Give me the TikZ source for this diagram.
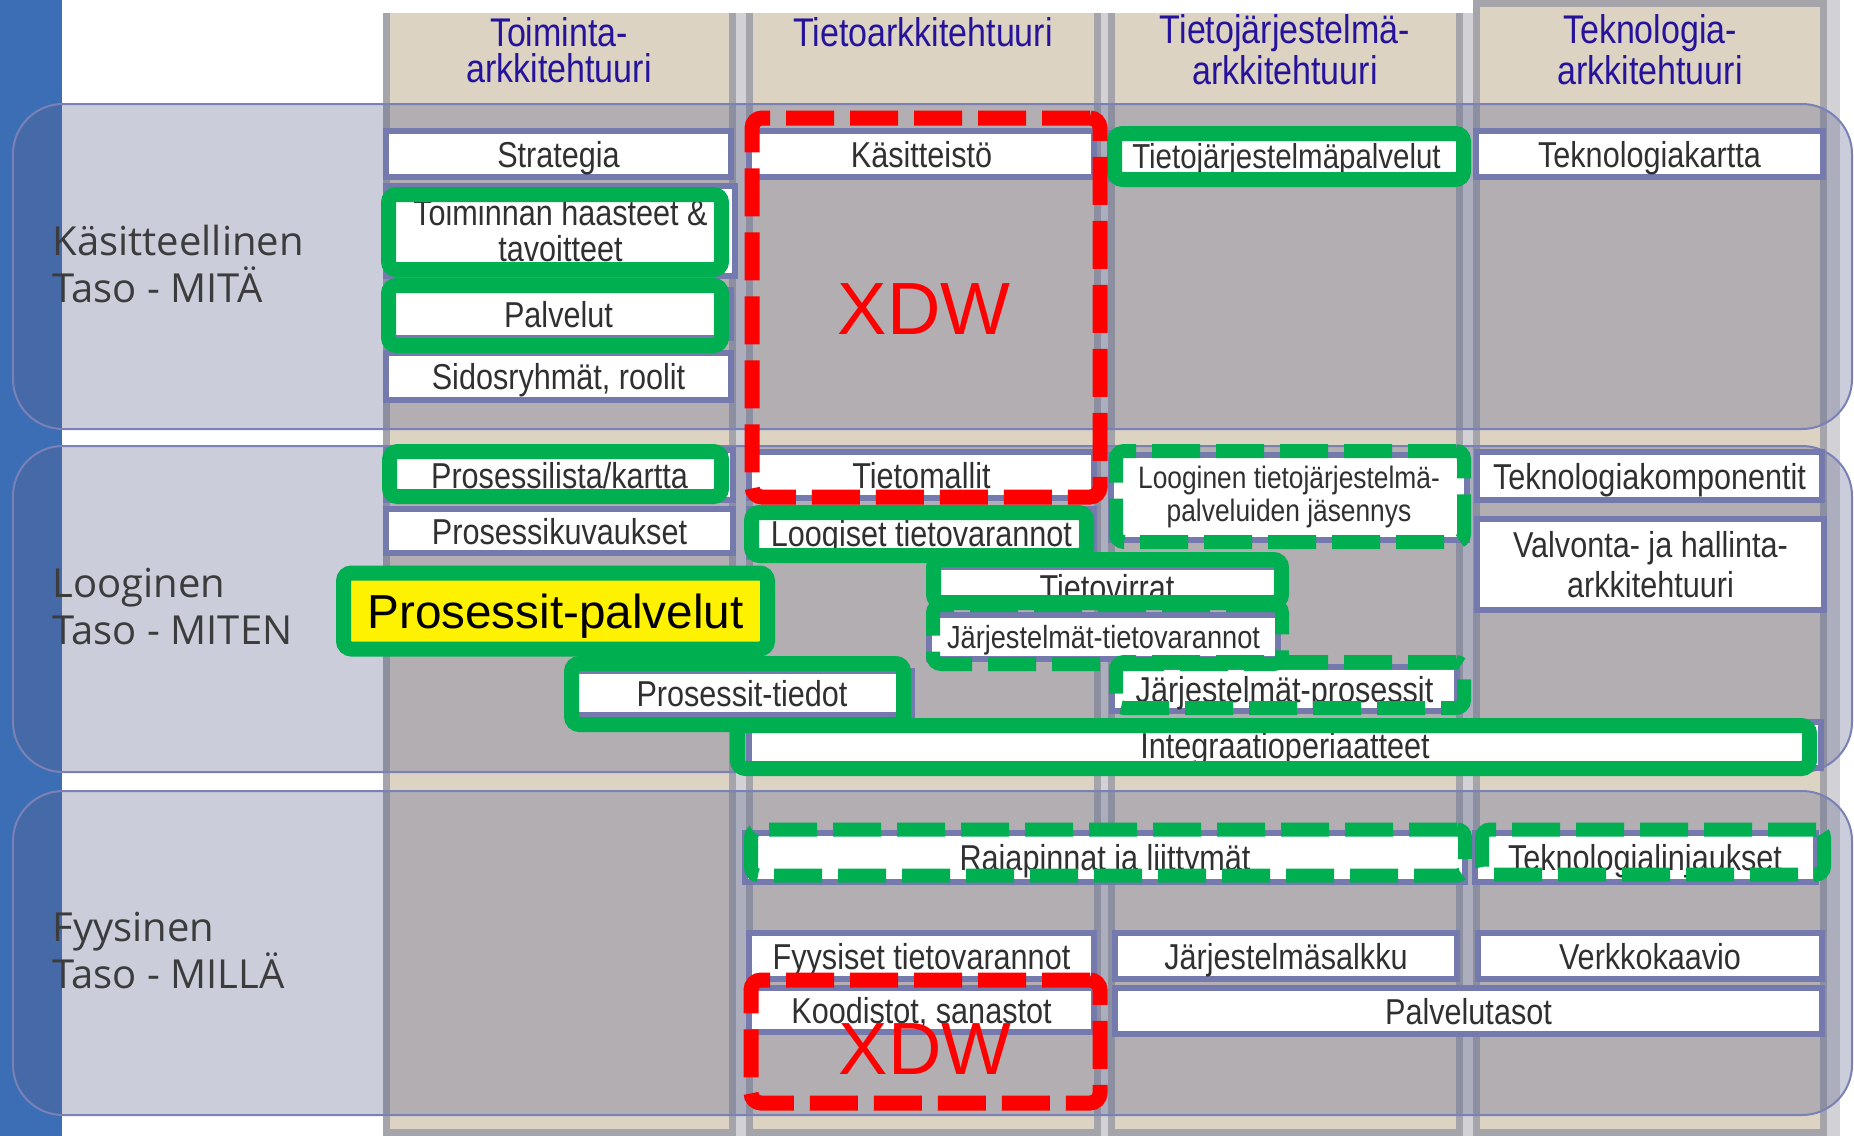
\documentclass[tikz,border=0pt]{standalone}
\usepackage{fontspec}
\setmainfont{Liberation Sans}
\newfontfamily\narrowfont[FakeStretch=0.85]{Liberation Sans}
\newfontfamily\tasofont{Open Sans}
\usepackage{xcolor}
\definecolor{BarBlue}{HTML}{3C6EB5}
\definecolor{ColTan}{HTML}{DCD3C2}
\definecolor{ColGray}{HTML}{A4A4AA}
\definecolor{StipGray}{HTML}{D2D2D6}
\definecolor{BandInk}{HTML}{5C638E}
\definecolor{BandLine}{HTML}{7A81B6}
\definecolor{BoxLine}{HTML}{7479AE}
\definecolor{BoxText}{HTML}{303030}
\definecolor{HeadBlue}{HTML}{26139C}
\definecolor{TasoGray}{HTML}{3C3C3C}
\definecolor{OffGreen}{HTML}{00B050}
\definecolor{XRed}{HTML}{FF0000}
\usepackage{tikz}
\newcommand\boxfont{\narrowfont\fontsize{10.8pt}{10.8pt}\selectfont}
\newcommand\headfont{\narrowfont\fontsize{12pt}{10.8pt}\selectfont}

\begin{document}
\begin{tikzpicture}[x=0.3pt,y=-0.3pt, sz/.style 2 args={minimum width=#1*0.3pt,minimum height=#2*0.3pt}, box/.style={draw=BoxLine,line width=1.8pt,fill=white,inner sep=0pt,text=BoxText,font=\boxfont,text height=7.9pt,text depth=0pt}, box2/.style={draw=BoxLine,line width=1.8pt,fill=white,inner sep=0pt,text=BoxText,font=\boxfont,align=center}, gframe/.style={draw=OffGreen,line width=4.5pt,rounded corners=2.4pt,inner sep=0pt}, gdash/.style={gframe,line width=4.2pt,dash pattern=on 14.4pt off 4.8pt}, hilite/.style={gframe,fill=yellow,text=black,font=\fontsize{14.3pt}{14.3pt}\selectfont,text height=10.4pt,text depth=0pt}, xdwframe/.style={draw=XRed,line width=4.5pt,dash pattern=on 14.4pt off 4.8pt,rounded corners=3pt,inner sep=0pt}, xdw/.style={text=XRed,font=\fontsize{22.2pt}{22.2pt}\selectfont,inner sep=0pt,text height=16pt,text depth=0pt}, head/.style={text=HeadBlue,font=\headfont,align=center,inner sep=0pt}, taso/.style={text=TasoGray,font=\tasofont\fontsize{12pt}{14.1pt}\selectfont,align=left,anchor=west,inner sep=0pt}, band/.style={draw=BandLine,line width=0.6pt,fill=BandInk,fill opacity=0.32,rounded corners=15pt}]
\useasboundingbox (0,0) rectangle (1854,1136);
\fill[BarBlue] (0,0) rectangle (62,1136);
\foreach \l/\r in {383/736,746/1101,1108/1463} {
  \fill[ColTan] (\l,13) rectangle (\r,1136);
  \draw[ColGray,line width=2.1pt] (\l+3.5,13) -- (\l+3.5,1132.5) -- (\r-3.5,1132.5) -- (\r-3.5,13);
}
\fill[ColTan] (1473,0) rectangle (1827,1136);
\draw[ColGray,line width=2.1pt] (1476.5,3.5) rectangle (1823.5,1132.5);
\foreach \a/\b in {736/746,1101/1108,1463/1473} \fill[StipGray] (\a,13) rectangle (\b,1136);
\fill[StipGray] (1827,0) rectangle (1840,1136);
\foreach \t/\b in {104/429,446/772,791/1115} \draw[band] (13,\t) rectangle (1852,\b);

\node[head] (hToim) at (559,50) {Toiminta-\\arkkitehtuuri};
\node[head] (hTieto) at (923,32) {Tietoarkkitehtuuri};
\node[head] (hTJ) at (1285,50) {Tietojärjestelmä-\\arkkitehtuuri};
\node[head] (hTek) at (1650,50) {Teknologia-\\arkkitehtuuri};
\node[taso] (kasitteellinen) at (52,263.5) {Käsitteellinen\\Taso - MITÄ};
\node[taso] (looginen) at (52,606.5) {Looginen\\Taso - MITEN};
\node[taso] (fyysinen) at (52,951) {Fyysinen\\Taso - MILLÄ};

\node[box,sz={345}{46}] (strategia) at (558.5,154) {Strategia};
\node[box2,sz={349}{90}] (haasteet) at (560.5,231) {Toiminnan haasteet \&\\tavoitteet};
\node[box,sz={345}{48}] (palvelut) at (558.5,314) {Palvelut};
\node[box,sz={345}{47}] (sidos) at (558.5,376) {Sidosryhmät, roolit};
\node[box,sz={345}{46}] (kasitteisto) at (921.5,154) {Käsitteistö};
\node[box,sz={351}{46},font=\narrowfont\fontsize{10.4pt}{10.4pt}\selectfont,text height=7.5pt] (tjpalv) at (1286.5,156) {Tietojärjestelmäpalvelut};
\node[box,sz={347}{46}] (tekkartta) at (1649.5,154) {Teknologiakartta};

\node[box,sz={347}{50}] (proslista) at (559.5,475) {Prosessilista/kartta};
\node[box,sz={347}{44}] (proskuv) at (559.5,531) {Prosessikuvaukset};
\node[box,sz={345}{46}] (tietomallit) at (921.5,475) {Tietomallit};
\node[box,sz={345}{48}] (loogvar) at (921.5,533) {Loogiset tietovarannot};
\node[box2,sz={356}{85},font=\narrowfont\fontsize{9.3pt}{9.9pt}\selectfont] (loogtj) at (1289,497) {Looginen tietojärjestelmä-\\palveluiden jäsennys};
\node[box,sz={345}{48}] (tekkomp) at (1649.5,476) {Teknologiakomponentit};
\node[box2,sz={347}{91},font=\narrowfont\fontsize{10.8pt}{12pt}\selectfont] (valvonta) at (1650.5,564.5) {Valvonta- ja hallinta-\\arkkitehtuuri};
\node[box,sz={344}{40}] (tietovirrat) at (1107,587) {Tietovirrat};
\node[box,sz={349}{44},font=\narrowfont\fontsize{9.6pt}{9.6pt}\selectfont,text height=7pt] (jtvar) at (1103.5,637) {Järjestelmät-tietovarannot};
\node[box,sz={345}{44}] (jpros) at (1284.5,689) {Järjestelmät-prosessit};
\node[box,sz={340}{44}] (prostied) at (742,693) {Prosessit-tiedot};
\node[box,sz={1072}{46}] (integr) at (1285,745) {Integraatioperiaatteet};

\node[box,sz={720}{49}] (rajap) at (1105,857) {Rajapinnat ja liittymät};
\node[box,sz={341}{49}] (teklinj) at (1645,857) {Teknologialinjaukset};
\node[box,sz={345}{46}] (fyysvar) at (921.5,956) {Fyysiset tietovarannot};
\node[box,sz={342}{46}] (jsalkku) at (1286,956) {Järjestelmäsalkku};
\node[box,sz={344}{46}] (verkko) at (1650,956) {Verkkokaavio};
\node[box,sz={345}{44}] (koodistot) at (921.5,1010) {Koodistot, sanastot};
\node[box,sz={707}{46}] (palvtasot) at (1468.5,1011) {Palvelutasot};

\node[gframe,sz={333}{75}] (haasteetG) at (555,232) {};
\node[gframe,sz={333}{60}] (palvelutG) at (555,315.5) {};
\node[gframe,sz={349}{46}] (tjpalvG) at (1289,156.5) {};
\node[gframe,sz={332}{45}] (proslistaG) at (555.5,474) {};
\node[gframe,sz={335}{43}] (loogvarG) at (919,534) {};
\node[gdash,sz={349}{59}] (jtvarG) at (1107.5,634.5) {};
\node[gframe,sz={348}{43}] (tietovirratG) at (1107.5,581) {};
\node[gframe,sz={332}{61}] (prostiedG) at (737.5,694) {};
\node[gframe,sz={1072}{43}] (integrG) at (1273.5,747) {};
\node[hilite,sz={424}{76}] (prospalv) at (555.5,611) {Prosessit-palvelut};
\node[gdash,sz={348}{91}] (loogtjG) at (1290,496.5) {};
\node[gdash,sz={348}{46}] (jprosG) at (1290,685) {};
\node[gdash,sz={714}{46}] (rajapG) at (1108,852.5) {};
\node[gdash,sz={342}{45}] (teklinjG) at (1653,852) {};

\node[xdwframe,sz={348}{379}] (xdwTop) at (926,307.5) {};
\node[xdw] (xdwTopText) at (924,308) {XDW};
\node[xdwframe,sz={349}{123}] (xdwLow) at (925.5,1041.5) {};
\node[xdw] (xdwLowText) at (925,1048) {XDW};
\end{tikzpicture}
\end{document}
